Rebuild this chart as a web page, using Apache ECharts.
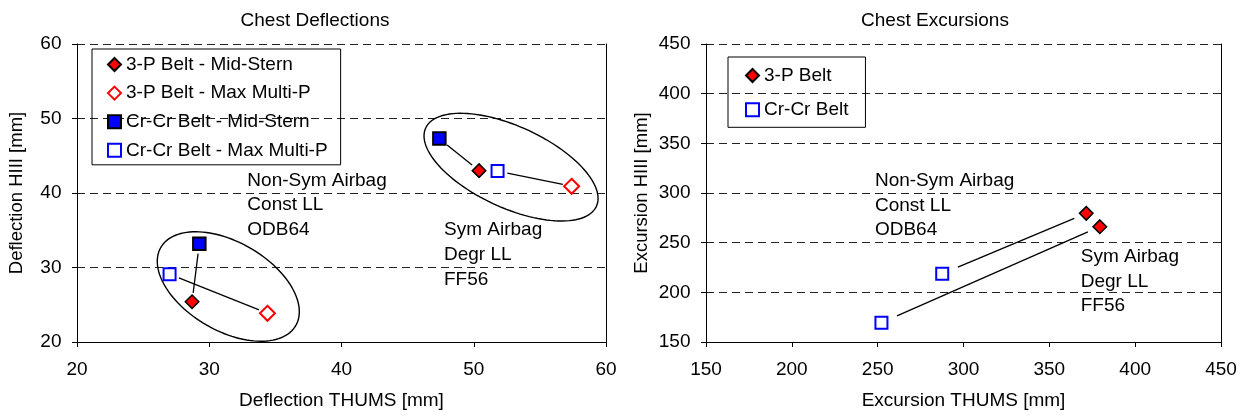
<!DOCTYPE html>
<html>
<head>
<meta charset="utf-8">
<script src="https://cdn.jsdelivr.net/npm/echarts@6/dist/echarts.min.js"></script>
<style>
  html, body { margin: 0; padding: 0; background: #fff; }
  #main { width: 1241px; height: 416px; }
</style>
</head>
<body>
<div id="main"></div>
<script>
// chest deflection, [THUMS, HIII] in mm
var defl3pMid = [[28.7, 25.4], [50.4, 43.0]];
var defl3pMax = [[34.4, 23.85], [57.4, 40.9]];
var deflCrMid = [[29.25, 33.2], [47.4, 47.3]];
var deflCrMax = [[27.0, 29.1], [51.8, 42.95]];

// chest excursion, [THUMS, HIII] in mm
var exc3p = [[371.5, 279.5], [379.4, 266.1]];
var excCr = [[287.6, 218.8], [252.2, 169.5]];

var deflTicks = [20, 30, 40, 50, 60];
var excTicks = [150, 200, 250, 300, 350, 400, 450];

var deflNames = ['3-P Belt - Mid-Stern', '3-P Belt - Max Multi-P', 'Cr-Cr Belt - Mid-Stern', 'Cr-Cr Belt - Max Multi-P'];
var excNames = ['3-P Belt', 'Cr-Cr Belt'];
var notes = ['Non-Sym Airbag\nConst LL\nODB64', 'Sym Airbag\nDegr LL\nFF56'];

// ellipses round the two deflection groups: centre x, centre y, half width, half height, tilt
var deflGroups = [[31.44, 27.45, 5.37, 7.35, -0.46], [52.82, 43.47, 6.58, 7.23, -0.58]];

var FONT = '"Liberation Sans", Arial, sans-serif';
var FS = 19;
var RED = '#ff0000', BLUE = '#0000ff';

// where the two text blocks sit (data units, left edge / first line centre)
var deflNotePos = [[32.88, 41.7], [47.75, 35.0]];
var excNotePos = [[248.4, 312.4], [368.3, 235.9]];

function pairs(a, b) {
  var out = [];
  for (var i = 0; i < a.length; i++) out.push([a[i][0], a[i][1], b[i][0], b[i][1]]);
  return out;
}

// connecting line, pulled back from both markers a little
function pairLine(gapA, gapB) {
  return function (params, api) {
    var a = api.coord([api.value(0), api.value(1)]);
    var b = api.coord([api.value(2), api.value(3)]);
    var dx = b[0] - a[0], dy = b[1] - a[1];
    var len = Math.sqrt(dx * dx + dy * dy);
    var ux = dx / len, uy = dy / len;
    return {
      type: 'line',
      shape: { x1: a[0] + ux * gapA, y1: a[1] + uy * gapA, x2: b[0] - ux * gapB, y2: b[1] - uy * gapB },
      style: { stroke: '#000', lineWidth: 1.3 }
    };
  };
}

function ellipse(params, api) {
  var cx = api.value(0), cy = api.value(1), w = api.value(2), h = api.value(3);
  var psi = Math.asin(api.value(4));
  var pts = [];
  for (var k = 0; k < 120; k++) {
    var t = k / 120 * Math.PI * 2;
    pts.push(api.coord([cx + w * Math.cos(t), cy + h * Math.sin(t + psi)]));
  }
  return { type: 'polygon', shape: { points: pts }, style: { fill: 'none', stroke: '#000', lineWidth: 1.4 } };
}

function noteText(params, api) {
  var p = api.coord([api.value(0), api.value(1)]);
  return {
    type: 'text',
    x: p[0], y: p[1] - 12.35,
    style: {
      text: notes[params.dataIndex], fill: '#000',
      fontSize: FS, fontFamily: FONT, lineHeight: 24.7,
      align: 'left', verticalAlign: 'top'
    }
  };
}

function xAxisOf(grid, ticks, name) {
  return {
    type: 'value', gridIndex: grid, min: ticks[0], max: ticks[ticks.length - 1],
    interval: ticks[1] - ticks[0],
    name: name, nameLocation: 'middle', nameGap: 49,
    nameTextStyle: { color: '#000', fontSize: FS, fontFamily: FONT },
    axisLine: { onZero: false, lineStyle: { color: '#000', width: 1 } },
    axisTick: { show: true, length: 5, lineStyle: { color: '#000' } },
    axisLabel: { color: '#000', fontSize: FS, fontFamily: FONT, margin: 18 },
    splitLine: { show: false }
  };
}

function yAxisOf(grid, ticks, name, gap) {
  return {
    type: 'value', gridIndex: grid, min: ticks[0], max: ticks[ticks.length - 1],
    interval: ticks[1] - ticks[0],
    name: name, nameLocation: 'middle', nameGap: gap,
    nameTextStyle: { color: '#000', fontSize: 18.5, fontFamily: FONT },
    axisLine: { show: true, onZero: false, lineStyle: { color: '#000', width: 1 } },
    axisTick: { show: true, length: 5, lineStyle: { color: '#000' } },
    axisLabel: { color: '#000', fontSize: FS, fontFamily: FONT, margin: 15.5 },
    splitLine: { show: true, lineStyle: { color: '#222', type: [8, 5], width: 1 } }
  };
}

// plain right-hand frame line
function frameAxis(grid, ticks) {
  return {
    type: 'value', gridIndex: grid, position: 'right', min: ticks[0], max: ticks[ticks.length - 1],
    axisLine: { show: true, onZero: false, lineStyle: { color: '#000' } },
    axisTick: { show: false }, axisLabel: { show: false }, splitLine: { show: false }
  };
}

function legendOf(names, left, top, gap, pad) {
  return {
    data: names, orient: 'vertical', left: left, top: top,
    itemGap: gap, itemWidth: 13, itemHeight: 13, padding: pad,
    borderColor: '#000', borderWidth: 1, borderRadius: 0,
    selectedMode: false,
    textStyle: { color: '#000', fontSize: FS, fontFamily: FONT }
  };
}

function dots(name, data, xi, yi, symbol, size, fill, stroke, bw) {
  return {
    name: name, type: 'scatter', xAxisIndex: xi, yAxisIndex: yi,
    data: data, symbol: symbol, symbolSize: size, z: 5,
    itemStyle: { color: fill, borderColor: stroke, borderWidth: bw, opacity: 1 }
  };
}

var chart = echarts.init(document.getElementById('main'));
chart.setOption({
  animation: false,
  backgroundColor: '#fff',
  title: [
    { text: 'Chest Deflections', left: 310, top: 6, textAlign: 'center',
      textStyle: { color: '#000', fontSize: FS, fontWeight: 'normal', fontFamily: FONT } },
    { text: 'Chest Excursions', left: 930, top: 6, textAlign: 'center',
      textStyle: { color: '#000', fontSize: FS, fontWeight: 'normal', fontFamily: FONT } }
  ],
  grid: [
    { left: 77, right: 635, top: 44, bottom: 74 },
    { left: 706, right: 20, top: 44, bottom: 74 }
  ],
  legend: [
    legendOf(deflNames, 92, 49, 9.6, [6, 13, 5, 15]),
    legendOf(excNames, 728, 57, 15.3, [9, 17, 8, 17])
  ],
  xAxis: [
    xAxisOf(0, deflTicks, 'Deflection THUMS [mm]'),
    xAxisOf(1, excTicks, 'Excursion THUMS [mm]')
  ],
  yAxis: [
    yAxisOf(0, deflTicks, 'Deflection HIII [mm]', 51),
    yAxisOf(1, excTicks, 'Excursion HIII [mm]', 55),
    frameAxis(0, deflTicks),
    frameAxis(1, excTicks)
  ],
  series: [
    { type: 'custom', xAxisIndex: 0, yAxisIndex: 0, z: 1, silent: true,
      data: deflGroups, encode: { x: 0, y: 1 }, renderItem: ellipse },
    { type: 'custom', xAxisIndex: 0, yAxisIndex: 0, z: 1, silent: true,
      data: pairs(deflCrMid, defl3pMid).concat(pairs(deflCrMax, defl3pMax)),
      encode: { x: [0, 2], y: [1, 3] }, renderItem: pairLine(10, 9) },
    { type: 'custom', xAxisIndex: 0, yAxisIndex: 0, z: 1, silent: true,
      data: deflNotePos, encode: { x: 0, y: 1 }, renderItem: noteText },
    dots(deflNames[0], defl3pMid, 0, 0, 'diamond', 13.5, RED, '#000', 1.5),
    dots(deflNames[1], defl3pMax, 0, 0, 'diamond', 15, '#fff', RED, 2),
    dots(deflNames[2], deflCrMid, 0, 0, 'rect', 12.5, BLUE, '#000', 2),
    dots(deflNames[3], deflCrMax, 0, 0, 'rect', 12, '#fff', BLUE, 2),

    { type: 'custom', xAxisIndex: 1, yAxisIndex: 1, z: 1, silent: true,
      data: pairs(excCr, exc3p), encode: { x: [0, 2], y: [1, 3] }, renderItem: pairLine(17, 13) },
    { type: 'custom', xAxisIndex: 1, yAxisIndex: 1, z: 1, silent: true,
      data: excNotePos, encode: { x: 0, y: 1 }, renderItem: noteText },
    dots(excNames[0], exc3p, 1, 1, 'diamond', 13.5, RED, '#000', 1.5),
    dots(excNames[1], excCr, 1, 1, 'rect', 12, '#fff', BLUE, 2)
  ]
});
</script>
</body>
</html>
